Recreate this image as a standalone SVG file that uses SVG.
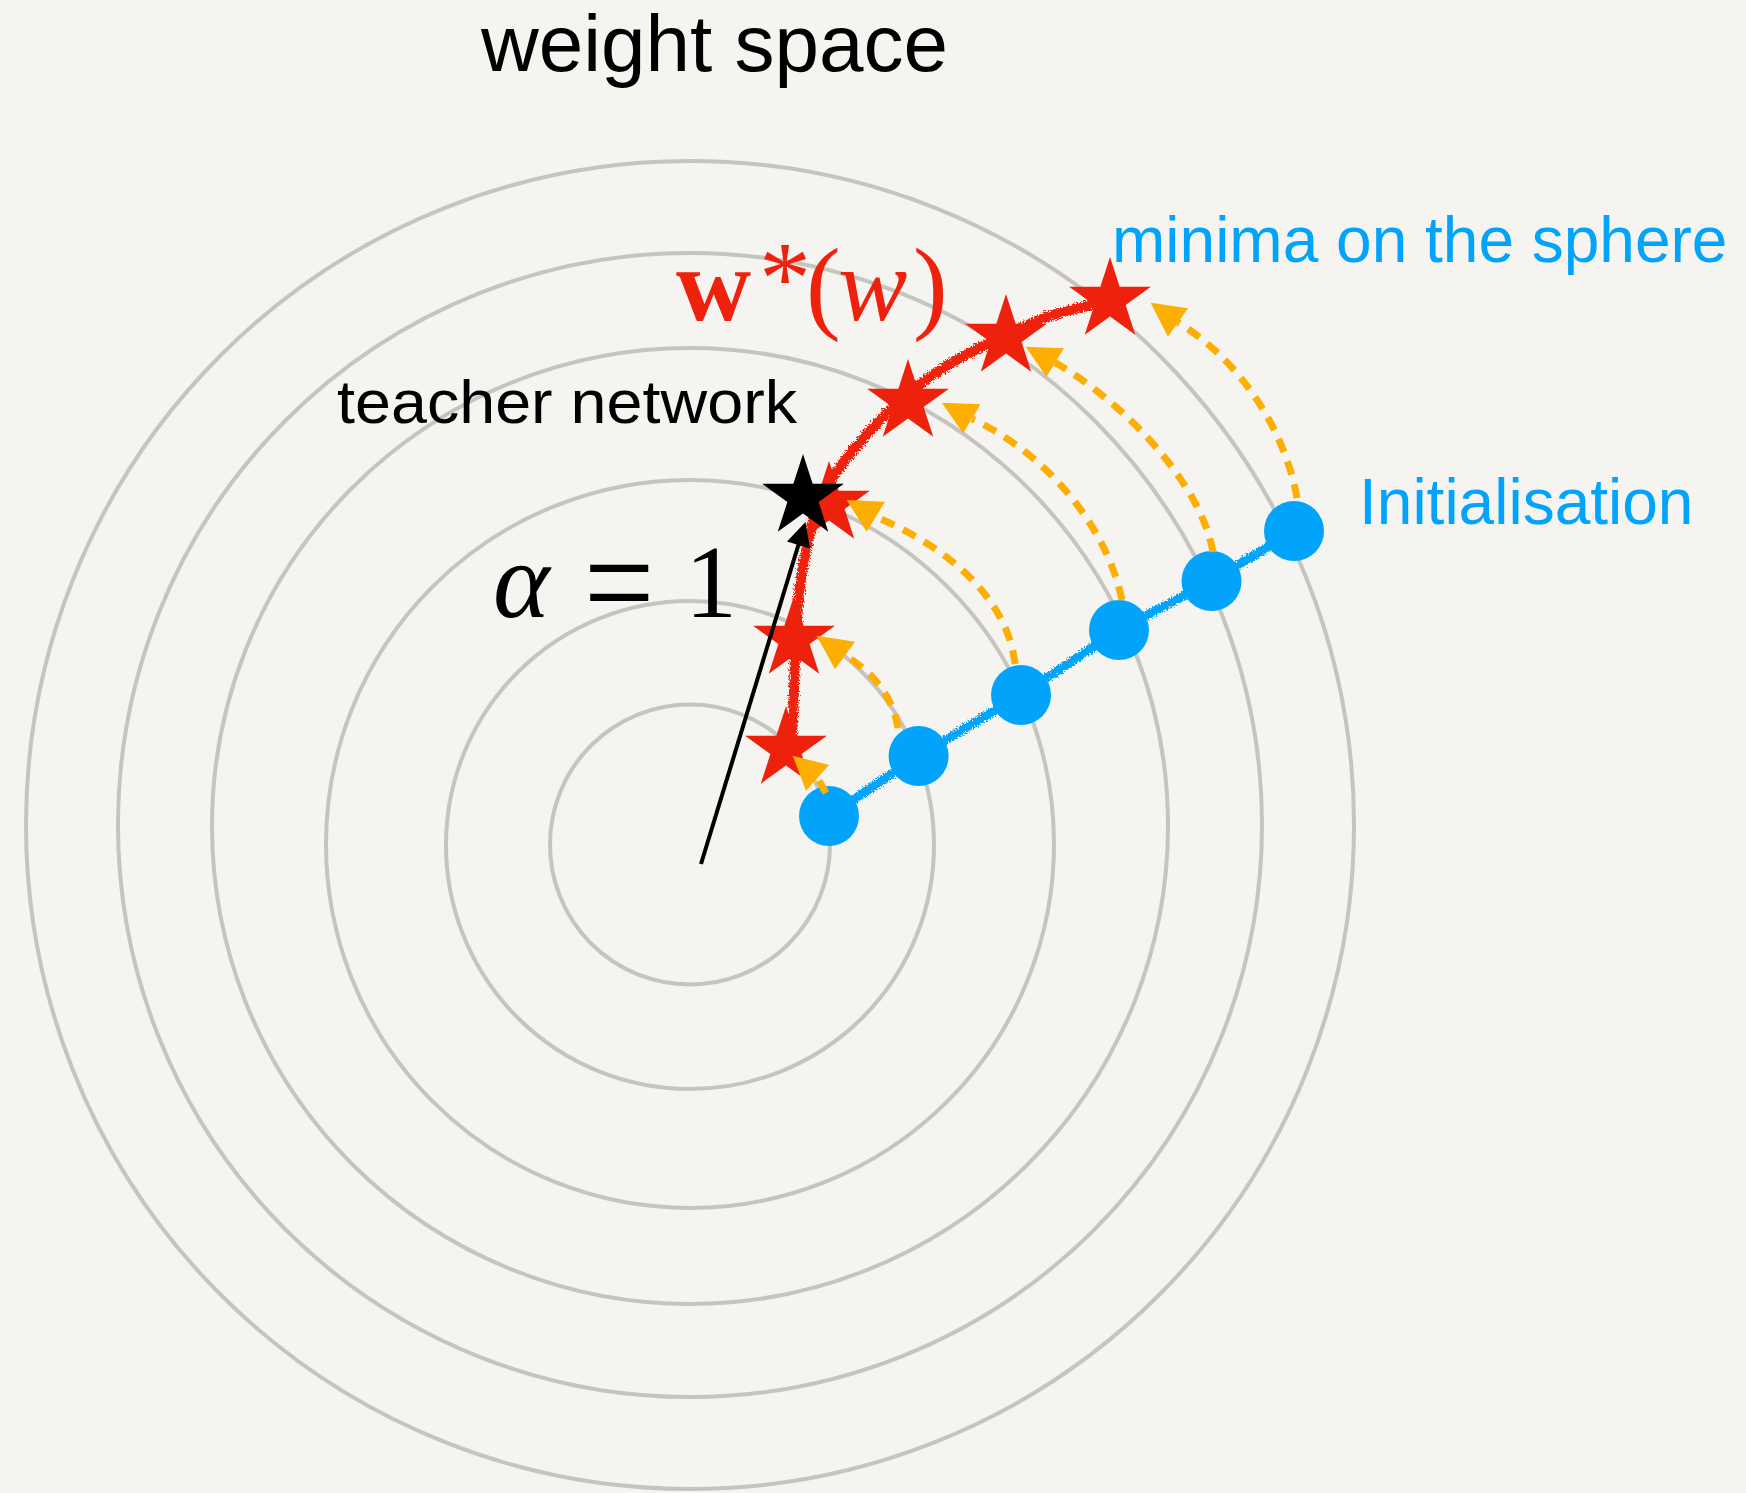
<svg xmlns="http://www.w3.org/2000/svg" xmlns:xlink="http://www.w3.org/1999/xlink" width="1746" height="1493" viewBox="0 0 1746 1493">
<style>
.ring{fill:none;stroke:#c5c4bf;stroke-width:4}
.sans{font-family:"Liberation Sans",Arial,sans-serif}
.serif{font-family:"Liberation Serif","Times New Roman",serif}
.blue{fill:#02a4fb}
.red{fill:#ee220c}
.dash{fill:none;stroke:#fdae02;stroke-width:7;stroke-dasharray:14 10}
.head{fill:#fdae02}
</style>
<defs>
<filter id="rough" filterUnits="userSpaceOnUse" x="0" y="0" width="1746" height="1493">
<feTurbulence type="fractalNoise" baseFrequency="0.6" numOctaves="2" seed="3" result="n"/>
<feDisplacementMap in="SourceGraphic" in2="n" scale="8" xChannelSelector="R" yChannelSelector="G"/>
</filter>
<path id="star" d="M0,-43 L9.65,-13.28 L40.9,-13.29 L15.62,5.07 L25.27,34.79 L0,16.42 L-25.27,34.79 L-15.62,5.07 L-40.9,-13.29 L-9.65,-13.28 Z"/>
</defs>
<rect width="1746" height="1493" fill="#f5f4f0"/>
<g id="rings">
<circle class="ring" cx="690" cy="844.5" r="140"/>
<circle class="ring" cx="690" cy="845" r="244"/>
<circle class="ring" cx="690" cy="844" r="364"/>
<circle class="ring" cx="690" cy="826" r="478"/>
<circle class="ring" cx="690" cy="825" r="572"/>
<circle class="ring" cx="690" cy="825" r="664"/>
</g>
<g id="connectors">
<path id="init-line" filter="url(#rough)" d="M829,816 L918.6,756 L1021,695 L1119,630 L1211.5,581 L1294,531" fill="none" stroke="#02a4fb" stroke-width="9"/>
<path id="minima-line" filter="url(#rough)" fill="none" stroke="#ee220c" stroke-width="10" d="M792,745 C792.3,735.8 793.3,708.3 794,690 C794.7,671.7 794.8,653.7 796,635 C797.2,616.3 798.2,596.7 801,578 C803.8,559.3 808.2,539 813,523 C817.8,507 823,494.5 830,482 C837,469.5 845.7,459.3 855,448 C864.3,436.7 875.2,424.7 886,414 C896.8,403.3 907.7,393.3 920,384 C932.3,374.7 946.7,365.7 960,358 C973.3,350.3 985,345 1000,338 C1015,331 1031.7,322.3 1050,316 C1068.3,309.7 1100,302.7 1110,300"/>
</g>
<g id="init-points" class="blue">
<circle cx="829" cy="816" r="30"/>
<circle cx="918.6" cy="756" r="30"/>
<circle cx="1021" cy="695" r="30"/>
<circle cx="1119" cy="630" r="30"/>
<circle cx="1211.5" cy="581" r="30"/>
<circle cx="1294" cy="531" r="30"/>
</g>
<g id="minima-stars" class="red">
<use xlink:href="#star" x="786" y="749"/>
<use xlink:href="#star" x="794" y="639"/>
<use xlink:href="#star" x="829" y="504"/>
<use xlink:href="#star" x="908" y="402"/>
<use xlink:href="#star" x="1006" y="337"/>
<use xlink:href="#star" x="1110" y="300"/>
</g>
<g id="descent-arrows">
<path class="dash" d="M826,793 L817.5,778"/>
<polygon class="head" points="792.7,755.7 829,765 806,790.7"/>
<path class="dash" d="M898,728 C893,695 870,670 845,655.5"/>
<polygon class="head" points="816.7,635.7 855,641.7 835,669.3"/>
<path class="dash" d="M1015,664 C1008,600 950,548 876,517"/>
<polygon class="head" points="846.7,500 885,501.7 866.7,531.7"/>
<path class="dash" d="M1122,600 C1105,520 1040,450 972,419"/>
<polygon class="head" points="941.8,402.7 980.4,404.3 963.2,433.3"/>
<path class="dash" d="M1213,552 C1200,480 1120,400 1055,362.5"/>
<polygon class="head" points="1025.7,346.7 1064,348.3 1046.4,376.7"/>
<path class="dash" d="M1297,498 C1285,430 1240,360 1178,322.5"/>
<polygon class="head" points="1150.7,302.7 1188,308.3 1167.9,336.7"/>
</g>
<g id="alpha-arrow">
<line x1="701" y1="864" x2="799" y2="543" stroke="#000" stroke-width="4"/>
<polygon points="805.5,522 810,548.5 787,541.5" fill="#000"/>
</g>
<g id="teacher-star">
<use xlink:href="#star" x="803" y="497" fill="#000"/>
</g>
<g id="labels">
<text class="sans" x="481" y="71" font-size="80" fill="#000">weight space</text>
<text class="sans" x="1112" y="262" font-size="64" fill="#02a4fb">minima on the sphere</text>
<text class="sans" x="1359" y="524" font-size="64" fill="#02a4fb">Initialisation</text>
<text class="sans" x="337" y="423" font-size="61" fill="#000" textLength="460" lengthAdjust="spacingAndGlyphs">teacher network</text>
<text class="serif" x="493" y="617" font-size="108" font-style="italic" fill="#000">α</text>
<text class="serif" transform="translate(584,631) scale(1.2,1.4)" font-size="104" fill="#000">=</text>
<text class="serif" x="685" y="617" font-size="104" fill="#000">1</text>
<text class="serif red" y="320" font-size="104"><tspan x="676" font-weight="bold">w</tspan><tspan x="759" y="313">*</tspan><tspan x="806" y="320">(</tspan><tspan x="838" font-style="italic">w</tspan><tspan x="913">)</tspan></text>
</g>
</svg>
